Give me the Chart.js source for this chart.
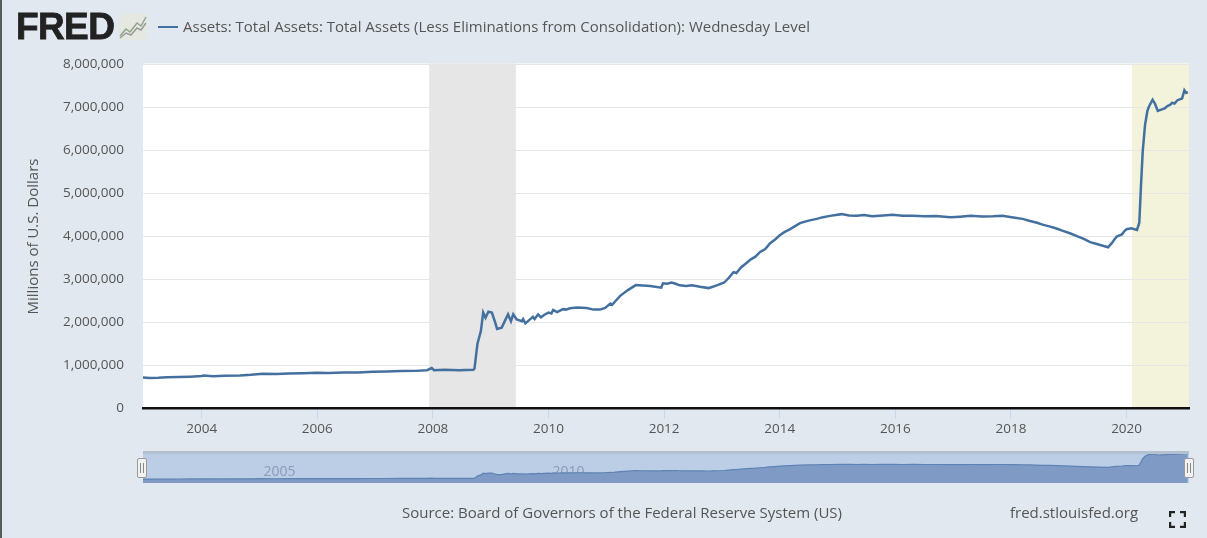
<!DOCTYPE html>
<html>
<head>
<meta charset="utf-8">
<title>FRED - Total Assets</title>
<script src="https://cdn.jsdelivr.net/npm/chart.js@4/dist/chart.umd.min.js"></script>
<style>
html, body { margin: 0; padding: 0; }
body { width: 1207px; height: 538px; position: relative; overflow: hidden; background: #e1e8ef; font-family: "Open Sans", sans-serif; color: #555; }
.edge { position: absolute; left: 0; top: 0; width: 2px; height: 538px; background: #5a5a5a; }
.abs { position: absolute; white-space: nowrap; }
#main { position: absolute; left: 0; top: 0; }
#nav { position: absolute; left: 143px; top: 452px; }
.strip { position: absolute; left: 143px; top: 451px; width: 1046px; height: 3px; background: #b4bfd0; z-index: 2; }
.handle { position: absolute; top: 458px; width: 8px; height: 18px; background: #f2f2f2; border: 1px solid #9a9a9a; border-radius: 2px; z-index: 3; }
.handle i { position: absolute; top: 4px; left: 2px; width: 1px; height: 10px; border-left: 1px solid #888; border-right: 1px solid #888; padding-left: 1px; }
</style>
</head>
<body>
<div class="edge"></div>
<canvas id="main" width="1207" height="538"></canvas>
<div class="strip"></div>
<canvas id="nav" width="1046" height="31"></canvas>
<div class="handle" style="left:137px"><i></i></div>
<div class="handle" style="left:1184px"><i></i></div>

<div class="abs" style="left:16px;top:6px;font:bold 37px 'Liberation Sans';letter-spacing:-0.6px;color:#222;-webkit-text-stroke:0.8px #222">FRED</div>
<svg class="abs" style="left:119px;top:14px" width="28" height="26">
  <rect width="28" height="26" fill="#e4e8e0"/>
  <polyline points="1,22 7,15 11,18 18,9 22,12 27,3" fill="none" stroke="#8fa58a" stroke-width="1.5"/>
  <polyline points="1,24 7,19 12,21 18,14 22,16 27,9" fill="none" stroke="#9a9a9a" stroke-width="1.5"/>
</svg>
<div class="abs" style="left:158px;top:26px;width:20px;height:2px;background:#44709f"></div>
<div class="abs" id="legend" style="left:183px;top:16px;font-size:15px;color:#555"></div>
<div class="abs" id="source" style="left:402px;top:502px;font-size:15px"></div>
<div class="abs" id="site" style="left:1010px;top:502px;font-size:15px"></div>
<svg class="abs" style="left:1169px;top:511px" width="17" height="17" fill="none" stroke="#222" stroke-width="2.4">
  <path d="M1,6V1H6M11,1H16V6M16,11V16H11M6,16H1V11"/>
</svg>

<script>
const seriesName = "Assets: Total Assets: Total Assets (Less Eliminations from Consolidation): Wednesday Level";
const yTitle = "Millions of U.S. Dollars";
const sourceText = "Source: Board of Governors of the Federal Reserve System (US)";
const siteText = "fred.stlouisfed.org";

const xMin = 2002.985;
const xMax = 2021.08;
const xTicks = [2004, 2006, 2008, 2010, 2012, 2014, 2016, 2018, 2020];
const yTicks = [0, 1000000, 2000000, 3000000, 4000000, 5000000, 6000000, 7000000, 8000000];
const navYears = [2005, 2010, 2015, 2020];

// shaded periods: recession, then the 2020 one still open
const bandStart = [2007.935, 2020.095];
const bandEnd = [2009.435, 2021.08];
const bandColor = ["#e6e6e6", "#f3f3dc"];

const dates = [
  2002.98, 2003.1, 2003.25, 2003.4, 2003.6, 2003.8, 2004, 2004.03, 2004.2, 2004.4, 2004.66, 2004.85, 2005.06, 2005.3, 2005.5, 2005.75,
  2005.99, 2006.2, 2006.45, 2006.7, 2006.96, 2007.2, 2007.45, 2007.7, 2007.9, 2007.98, 2008.02, 2008.2, 2008.45, 2008.7,
  2008.72, 2008.77, 2008.83, 2008.87, 2008.91, 2008.96, 2009.02, 2009.07, 2009.11, 2009.19, 2009.25, 2009.3, 2009.35, 2009.39,
  2009.45, 2009.54, 2009.56, 2009.6, 2009.67, 2009.73, 2009.76, 2009.82, 2009.87, 2009.93, 2010, 2010.05, 2010.08, 2010.15, 2010.25,
  2010.3, 2010.37, 2010.5, 2010.66, 2010.78, 2010.89, 2010.98, 2011.07, 2011.1, 2011.16, 2011.24, 2011.38, 2011.51, 2011.63, 2011.76, 2011.95,
  2011.98, 2012.05, 2012.13, 2012.2, 2012.27, 2012.38, 2012.48, 2012.62, 2012.77, 2012.84, 2012.91, 2013.04, 2013.12, 2013.2, 2013.25,
  2013.33, 2013.43, 2013.5, 2013.58, 2013.66, 2013.75, 2013.83, 2013.92, 2014, 2014.08, 2014.18, 2014.35, 2014.5, 2014.64, 2014.75, 2014.87,
  2015.07, 2015.2, 2015.33, 2015.46, 2015.6, 2015.79, 2015.95, 2016.13, 2016.31, 2016.5, 2016.7, 2016.95, 2017.12, 2017.3, 2017.5,
  2017.69, 2017.85, 2018.04, 2018.2, 2018.33, 2018.45, 2018.56, 2018.68, 2018.8, 2018.9, 2019.02, 2019.14, 2019.25, 2019.37, 2019.5,
  2019.68, 2019.74, 2019.79, 2019.83, 2019.92, 2019.96, 2020, 2020.08, 2020.18, 2020.22, 2020.25, 2020.28, 2020.32, 2020.36, 2020.39,
  2020.45, 2020.49, 2020.54, 2020.6, 2020.66, 2020.7, 2020.75, 2020.79, 2020.83, 2020.88, 2020.92, 2020.96, 2021, 2021.03, 2021.06
];
const assets = [
  720000, 710000, 715000, 725000, 730000, 740000, 755000, 765000, 750000, 760000, 770000, 785000, 810000, 800000, 815000, 820000,
  830000, 825000, 840000, 835000, 855000, 860000, 870000, 875000, 890000, 940000, 890000, 900000, 890000, 900000,
  930000, 1500000, 1800000, 2230000, 2110000, 2250000, 2230000, 2030000, 1850000, 1880000, 2050000, 2190000, 2030000, 2190000,
  2070000, 2030000, 2080000, 1980000, 2060000, 2130000, 2080000, 2190000, 2120000, 2180000, 2230000, 2210000, 2290000, 2240000, 2310000,
  2300000, 2330000, 2350000, 2335000, 2300000, 2300000, 2340000, 2440000, 2410000, 2500000, 2620000, 2760000, 2870000, 2860000, 2850000, 2810000,
  2910000, 2900000, 2930000, 2900000, 2865000, 2850000, 2865000, 2830000, 2800000, 2830000, 2865000, 2930000, 3040000, 3170000, 3150000,
  3280000, 3390000, 3470000, 3530000, 3640000, 3710000, 3840000, 3930000, 4030000, 4100000, 4170000, 4310000, 4370000, 4410000, 4450000, 4480000,
  4520000, 4490000, 4480000, 4500000, 4470000, 4490000, 4505000, 4480000, 4485000, 4470000, 4475000, 4445000, 4460000, 4480000, 4465000,
  4470000, 4480000, 4440000, 4410000, 4360000, 4320000, 4270000, 4230000, 4180000, 4130000, 4075000, 4010000, 3950000, 3870000, 3820000,
  3750000, 3840000, 3930000, 4000000, 4050000, 4120000, 4170000, 4190000, 4150000, 4320000, 5200000, 5990000, 6600000, 6920000, 7030000,
  7180000, 7090000, 6920000, 6950000, 6980000, 7030000, 7060000, 7110000, 7090000, 7170000, 7190000, 7210000, 7400000, 7340000, 7360000
];

const points = dates.map((d, i) => ({ x: d, y: assets[i] }));
const tickFont = { family: "'Open Sans', sans-serif", size: 13.5 };

document.getElementById("legend").innerText = seriesName;
document.getElementById("source").innerText = sourceText;
document.getElementById("site").innerText = siteText;

const plotBack = {
  id: "plotBack",
  beforeDraw(chart) {
    const a = chart.chartArea, c = chart.ctx, x = chart.scales.x;
    c.save();
    c.fillStyle = "#fff";
    c.fillRect(a.left, a.top - 1, a.width, a.height + 1);
    bandStart.forEach((s, i) => {
      const p1 = x.getPixelForValue(s), p2 = x.getPixelForValue(bandEnd[i]);
      c.fillStyle = bandColor[i];
      c.fillRect(p1, a.top - 1, p2 - p1, a.height + 1);
    });
    c.restore();
  }
};

const navBack = {
  id: "navBack",
  beforeDatasetsDraw(chart) {
    const c = chart.ctx, x = chart.scales.x;
    c.save();
    c.fillStyle = "#8b9bb8";
    c.font = "14px 'Open Sans', sans-serif";
    c.textAlign = "center";
    navYears.forEach(y => c.fillText(String(y), x.getPixelForValue(y) + 20, 24));
    c.restore();
  }
};

new Chart(document.getElementById("main"), {
  type: "line",
  data: { datasets: [{ data: points, borderColor: "#44709f", borderWidth: 2.5, pointRadius: 0, tension: 0 }] },
  options: {
    responsive: false,
    animation: false,
    parsing: false,
    layout: { padding: { left: 0, top: 64.5, right: 18, bottom: 99 } },
    plugins: { legend: { display: false }, tooltip: { enabled: false } },
    scales: {
      x: {
        type: "linear",
        min: xMin,
        max: xMax,
        afterBuildTicks: s => { s.ticks = xTicks.map(v => ({ value: v })); },
        afterFit: s => { s.height = 30.5; },
        grid: { drawOnChartArea: false, tickLength: 10, tickColor: "#ccd6eb" },
        border: { color: "#111", width: 2.5 },
        ticks: { color: "#555", font: tickFont, padding: 3, maxRotation: 0, autoSkip: false, callback: v => String(v) }
      },
      y: {
        min: 0,
        max: 8000000,
        afterBuildTicks: s => { s.ticks = yTicks.map(v => ({ value: v })); },
        afterFit: s => { s.width = 143; },
        title: { display: true, text: yTitle, color: "#555", font: { family: "'Open Sans', sans-serif", size: 15 }, padding: { top: 25, bottom: 0 } },
        grid: { color: "#e6e6e6", drawTicks: false },
        border: { display: false },
        ticks: { color: "#555", font: tickFont, padding: 19, callback: v => v.toLocaleString("en-US") }
      }
    }
  },
  plugins: [plotBack]
});

new Chart(document.getElementById("nav"), {
  type: "line",
  data: { datasets: [{ data: points, borderColor: "#5f82b4", borderWidth: 1.2, backgroundColor: "#7f9bc5", fill: "start", pointRadius: 0, tension: 0 }] },
  options: {
    responsive: false,
    animation: false,
    parsing: false,
    layout: { padding: 0 },
    plugins: { legend: { display: false }, tooltip: { enabled: false } },
    scales: {
      x: { type: "linear", min: xMin, max: xMax, display: false },
      y: { min: -300000, max: 7700000, display: false }
    }
  },
  plugins: [{
    id: "navFill",
    beforeDraw(chart) {
      chart.ctx.fillStyle = "#bccde6";
      chart.ctx.fillRect(0, 0, chart.width, chart.height);
    }
  }, navBack]
});
</script>
</body>
</html>
